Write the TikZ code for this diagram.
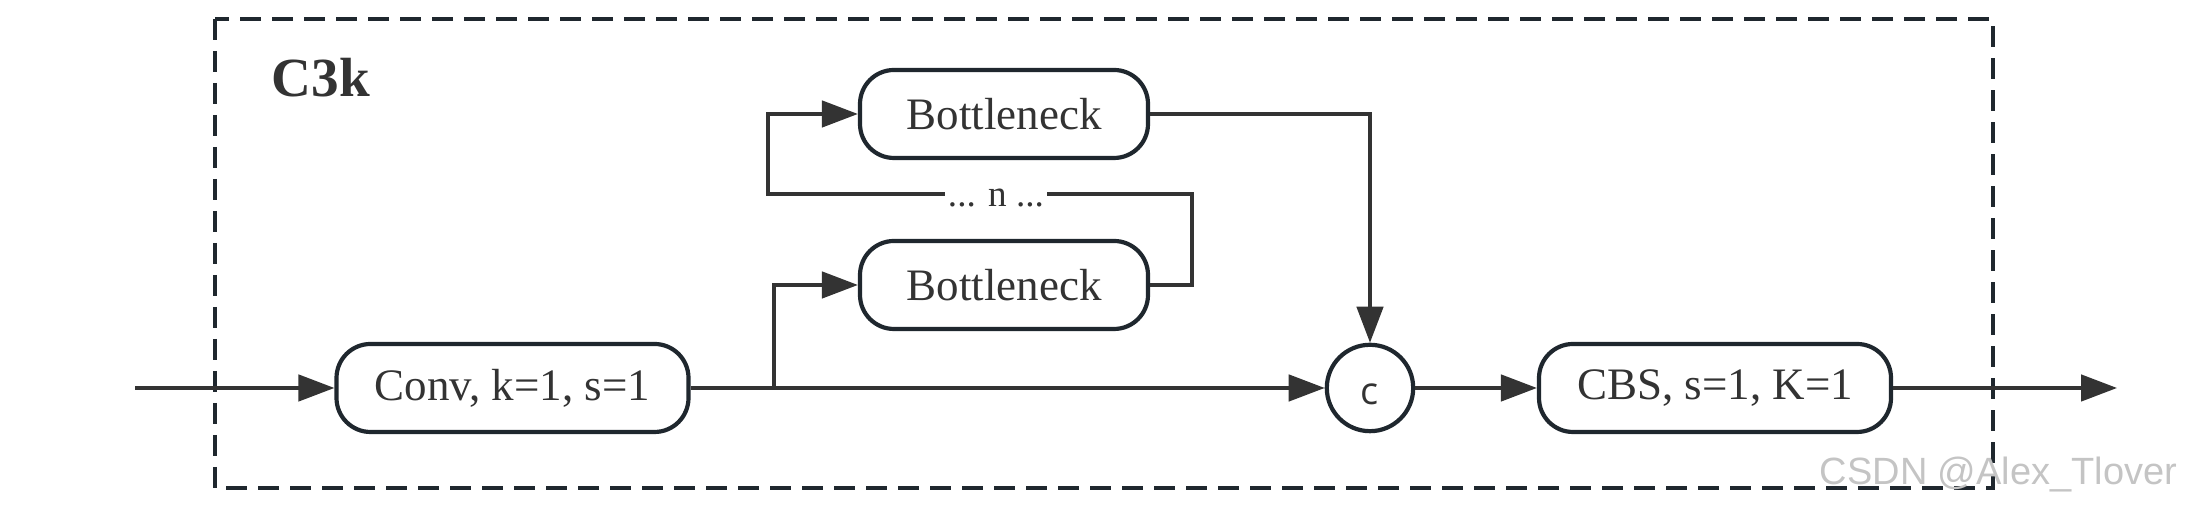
\documentclass[tikz,border=0pt]{standalone}
\usepackage{fontspec}
\setmainfont{Liberation Serif}
\newfontfamily\opensans{Open Sans}
\newfontfamily\wmfont{Liberation Sans}
\usetikzlibrary{arrows.meta,shapes.geometric}
\definecolor{txt}{HTML}{333333}
\definecolor{edge}{HTML}{1F272E}
\definecolor{wline}{HTML}{333333}
\definecolor{wm}{HTML}{C4C4C4}
\tikzset{
  blk/.style={draw=edge, line width=1.05pt, rounded corners=8.5pt, fill=white,
    minimum height=22pt, inner sep=0pt, text=txt, font=\fontsize{11.25pt}{13pt}\selectfont},
  cat/.style={draw=edge, line width=1.05pt, circle, minimum size=21.6pt, inner sep=0pt,
    text=txt, font=\opensans\fontsize{9.5pt}{11pt}\selectfont, text height=8.1pt, text depth=0pt},
  conn/.style={draw=wline, line width=0.85pt},
  arr/.style={conn, -{Triangle[length=9pt,width=6.6pt]}},
  frame/.style={draw=edge, line width=1pt, dash pattern=on 5.25pt off 2.75pt},
}
\begin{document}
\begin{tikzpicture}[x=0.25pt,y=-0.25pt]
\useasboundingbox (0,0) rectangle (2186,509);
% frame
\draw[frame] (215,19) rectangle (1993,488);
\node[anchor=base west, inner sep=0pt, text=txt, font=\bfseries\fontsize{13.8pt}{16pt}\selectfont] (title) at (271,97) {C3k};
% nodes
\node[blk, minimum width=88pt] (conv) at (512.5,388) {Conv, k=1, s=1};
\node[blk, minimum width=72pt] (b1) at (1004,114) {Bottleneck};
\node[blk, minimum width=72pt] (b2) at (1004,285) {Bottleneck};
\node[cat] (cc) at (1370,388) {c};
\node[blk, minimum width=88pt] (cbs) at (1715,388) {CBS, s=1, K=1};
% coordinates
\coordinate (in) at (135,388);
\coordinate (out) at (2117,388);
\coordinate (br) at (774,388);
\coordinate (loopR) at (1192,194);
\coordinate (loopL) at (768,194);
% connectors
\draw[arr] (in) -- (conv.west);
\draw[arr] (conv.east) -- (cc.west);
\draw[arr] (br) |- (b2.west);
\draw[arr] (b2.east) -| (loopR) -- (loopL) |- (b1.west);
\draw[arr] (b1.east) -| (cc.north);
\draw[arr] (cc.east) -- (cbs.west);
\draw[arr] (cbs.east) -- (out);
% loop label
\node[anchor=base, fill=white, inner sep=0.8pt, text=txt, font=\fontsize{9.3pt}{11pt}\selectfont] (nlab) at (996,207) {... n ...};
% watermark
\node[anchor=base west, inner sep=0pt, text=wm, font=\wmfont\fontsize{9.5pt}{11pt}\selectfont] (wmark) at (1819,485) {CSDN @Alex\_Tlover};
\end{tikzpicture}
\end{document}
